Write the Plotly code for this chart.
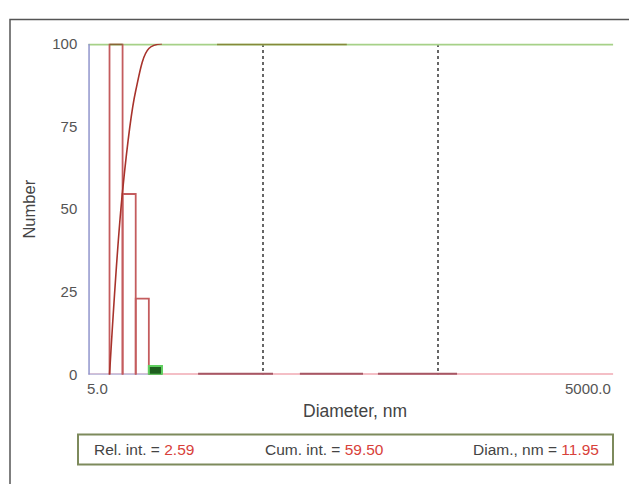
import numpy as np
import plotly.graph_objects as go

# ---- data -------------------------------------------------------------
# histogram bins (nm): left/right edges and relative number per bin
bin_left = [6.61, 7.85, 9.33]
bin_right = [7.85, 9.33, 11.09]
bin_number = [100.0, 54.6, 23.0]

# cursor bin (highlighted)
cursor_left = 11.09
cursor_right = 13.18
rel_int = 2.59
cum_int = 59.50
cursor_diam = 11.95

# runs of zero-count channels drawn along the baseline (nm)
zero_runs = [(21.2, 56.8), (80.9, 185.7), (226.0, 640.0)]
# run of channels at full scale along the top (nm)
top_run = (27.2, 150.0)

x_min, x_max = 5.0, 5000.0
x_grid = [50, 500, 5000]
x_tick_text = ["5.0", "5000.0"]
y_ticks = [0, 25, 50, 75, 100]

FONT = "Arial, Liberation Sans, sans-serif"
W, H = 629, 484

# ---- cumulative curve built from the bins ------------------------------
all_counts = np.array(bin_number + [rel_int])
cum = np.cumsum(all_counts) / all_counts.sum() * 100
cum_x = [bin_left[0]] + bin_right + [cursor_right]
cum_y = [0.0] + list(cum)

fig = go.Figure()

# baseline (pink) and light-blue start
fig.add_trace(go.Scatter(x=[x_min, x_max], y=[0, 0], mode="lines",
                         line=dict(color="#f0aab3", width=3), cliponaxis=False,
                         hoverinfo="skip"))
fig.add_trace(go.Scatter(x=[x_min, cursor_left], y=[0, 0], mode="lines",
                         line=dict(color="#b4c2e6", width=2.5), cliponaxis=False,
                         hoverinfo="skip"))
for a, b in zero_runs:
    fig.add_trace(go.Scatter(x=[a, b], y=[0, 0], mode="lines",
                             line=dict(color="#a65764", width=4), cliponaxis=False,
                             hoverinfo="skip"))

# top line at 100
fig.add_trace(go.Scatter(x=[x_min, x_max], y=[100, 100], mode="lines",
                         line=dict(color="#a6d188", width=3.5), cliponaxis=False,
                         hoverinfo="skip"))
fig.add_trace(go.Scatter(x=list(top_run), y=[100, 100], mode="lines",
                         line=dict(color="#86893a", width=3), cliponaxis=False,
                         hoverinfo="skip"))

# left axis line
fig.add_trace(go.Scatter(x=[x_min, x_min], y=[0, 100], mode="lines",
                         line=dict(color="#9095cc", width=3), cliponaxis=False,
                         hoverinfo="skip"))

# histogram bar outlines
for l, r, v in zip(bin_left, bin_right, bin_number):
    fig.add_trace(go.Scatter(x=[l, l, r, r], y=[0, v, v, 0], mode="lines",
                             line=dict(color="#c45c5e", width=1.8), cliponaxis=False,
                             hoverinfo="skip"))
fig.add_trace(go.Scatter(x=[bin_left[0], bin_right[0]], y=[bin_number[0]] * 2,
                         mode="lines", line=dict(color="#866634", width=3),
                         cliponaxis=False, hoverinfo="skip"))

# cursor bin
fig.add_trace(go.Scatter(x=[cursor_left, cursor_left, cursor_right, cursor_right, cursor_left],
                         y=[0, rel_int, rel_int, 0, 0], mode="lines", fill="toself",
                         fillcolor="#1f5f1f", line=dict(color="#5fcf5f", width=2),
                         cliponaxis=False, hoverinfo="skip"))

# cumulative curve
fig.add_trace(go.Scatter(x=cum_x, y=cum_y, mode="lines", line_shape="spline",
                         line=dict(color="#a8332c", width=1.6), cliponaxis=False,
                         hoverinfo="skip"))

x0p, x1p = 88.3 / W, 613.3 / W
y0p, y1p = (H - 379) / H, (H - 36) / H

fig.update_layout(
    width=W, height=H, margin=dict(l=0, r=0, t=0, b=0),
    paper_bgcolor="white", plot_bgcolor="white", showlegend=False,
    xaxis=dict(type="log", range=[np.log10(x_min), np.log10(x_max)],
               domain=[x0p, x1p], tickvals=x_grid, showticklabels=False,
               ticks="", showgrid=True, gridcolor="#666666", gridwidth=1.6,
               griddash="dot", zeroline=False, showline=False),
    yaxis=dict(range=[0, 100], domain=[y0p, y1p], tickvals=y_ticks,
               ticks="", showgrid=False, zeroline=False, showline=False,
               ticklabelstandoff=10,
               tickfont=dict(family=FONT, size=15, color="#555555"),
               title=dict(text="Number", standoff=12,
                          font=dict(family=FONT, size=16.5, color="#444444"))),
)

# x tick labels at the axis ends
fig.add_annotation(x=np.log10(x_min), y=0, xref="x", yref="y", text=x_tick_text[0],
                   showarrow=False, xanchor="left", yanchor="top", yshift=-3, xshift=-3,
                   font=dict(family=FONT, size=15, color="#555555"))
fig.add_annotation(x=np.log10(x_max), y=0, xref="x", yref="y", text=x_tick_text[1],
                   showarrow=False, xanchor="right", yanchor="top", yshift=-3,
                   font=dict(family=FONT, size=15, color="#555555"))
fig.add_annotation(x=(x0p + x1p) / 2 + 4 / W, y=(H - 417) / H, xref="paper", yref="paper",
                   text="Diameter, nm", showarrow=False, xanchor="center",
                   yanchor="middle", font=dict(family=FONT, size=17.5, color="#444444"))

# outer frame
fig.add_shape(type="rect", xref="paper", yref="paper",
              x0=10 / W, y0=-0.1, x1=1.1, y1=(H - 11) / H,
              line=dict(color="#555555", width=1.5))

# readout box
box_y0, box_y1 = (H - 472) / H, (H - 441) / H
fig.add_shape(type="rect", xref="paper", yref="paper",
              x0=78 / W, x1=613 / W, y0=box_y0, y1=box_y1,
              line=dict(color="#7d8a5c", width=2))
by = (box_y0 + box_y1) / 2
red = "#d8413a"
txt = "#444444"
fig.add_annotation(x=92 / W, y=by, xref="paper", yref="paper", showarrow=False,
                   xanchor="left", yanchor="middle",
                   text=f"<span style='color:{txt}'>Rel. int. = </span>"
                        f"<span style='color:{red}'>{rel_int:.2f}</span>",
                   font=dict(family=FONT, size=15.5))
fig.add_annotation(x=263 / W, y=by, xref="paper", yref="paper", showarrow=False,
                   xanchor="left", yanchor="middle",
                   text=f"<span style='color:{txt}'>Cum. int. = </span>"
                        f"<span style='color:{red}'>{cum_int:.2f}</span>",
                   font=dict(family=FONT, size=15.5))
fig.add_annotation(x=601 / W, y=by, xref="paper", yref="paper", showarrow=False,
                   xanchor="right", yanchor="middle",
                   text=f"<span style='color:{txt}'>Diam., nm = </span>"
                        f"<span style='color:{red}'>{cursor_diam:.2f}</span>",
                   font=dict(family=FONT, size=15.5))

fig.write_html("out.html")
